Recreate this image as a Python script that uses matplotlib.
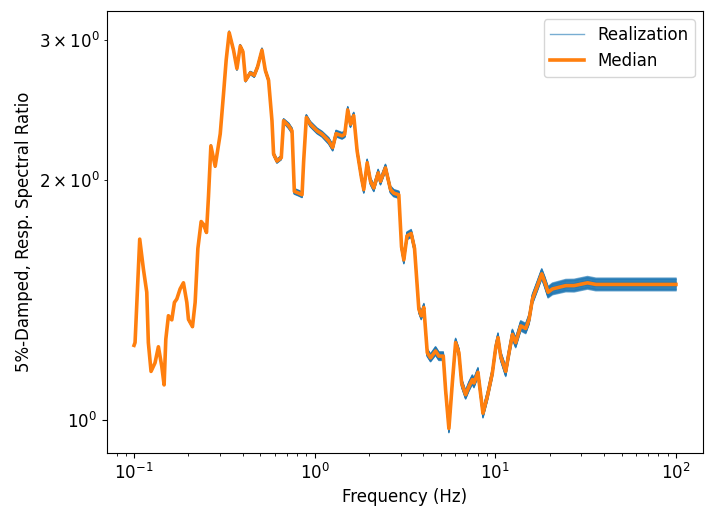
import numpy as np
import matplotlib
matplotlib.use("Agg")
import matplotlib.pyplot as plt

# frequencies (Hz)
freq = [
    0.1, 0.1013, 0.1048, 0.1075, 0.1126, 0.1176, 0.1200, 0.1242, 0.1307, 0.1364,
    0.1424, 0.1467, 0.1499, 0.1550, 0.1618, 0.1673, 0.1725, 0.1799, 0.1877, 0.1960,
    0.2001, 0.2106, 0.2179, 0.2256, 0.2353, 0.2423, 0.2518, 0.2583, 0.2663, 0.2813,
    0.3000, 0.3129, 0.3236, 0.3363, 0.3554, 0.3712, 0.3872, 0.4008, 0.4143, 0.4399,
    0.4629, 0.4828, 0.5107, 0.5328, 0.5556, 0.5803, 0.5922, 0.6184, 0.6533, 0.6729,
    0.7178, 0.7494, 0.7716, 0.8151, 0.8514, 0.8690, 0.8993, 0.9465, 1.031, 1.099,
    1.196, 1.258, 1.314, 1.419, 1.467, 1.524, 1.578, 1.645, 1.718, 1.816,
    1.870, 1.953, 2.037, 2.125, 2.247, 2.314, 2.466, 2.629, 2.742, 2.923,
    3.026, 3.116, 3.245, 3.424, 3.572, 3.773, 3.891, 4.022, 4.201, 4.382,
    4.670, 4.871, 5.152, 5.306, 5.535, 5.781, 6.029, 6.289, 6.510, 6.851,
    7.146, 7.463, 7.617, 8.016, 8.545, 9.036, 9.634, 10.05, 10.35, 10.71,
    11.42, 11.91, 12.44, 12.97, 13.83, 14.74, 15.38, 16.06, 17.12, 18.08,
    18.79, 19.60, 20.73, 22.55, 24.57, 27.31, 29.76, 32.41, 36.05, 49.6,
    72.7, 100.0,
]

# median spectral ratio
median = [
    1.242, 1.252, 1.491, 1.688, 1.550, 1.448, 1.252, 1.152, 1.181, 1.237,
    1.169, 1.108, 1.264, 1.353, 1.337, 1.406, 1.420, 1.462, 1.488, 1.406,
    1.339, 1.311, 1.406, 1.643, 1.776, 1.762, 1.721, 1.910, 2.210, 2.084,
    2.288, 2.569, 2.831, 3.065, 2.914, 2.763, 2.948, 2.900, 2.671, 2.728,
    2.710, 2.776, 2.914, 2.750, 2.671, 2.376, 2.159, 2.115, 2.136, 2.376,
    2.342, 2.308, 1.938, 1.928, 1.919, 2.115, 2.399, 2.353, 2.308, 2.286,
    2.242, 2.199, 2.290, 2.275, 2.286, 2.452, 2.353, 2.412, 2.178, 2.015,
    1.948, 2.105, 1.995, 1.957, 2.044, 1.995, 2.074, 1.948, 1.928, 1.919,
    1.651, 1.590, 1.704, 1.716, 1.643, 1.379, 1.353, 1.386, 1.216, 1.198,
    1.222, 1.204, 1.204, 1.092, 0.977, 1.114, 1.252, 1.216, 1.114, 1.077,
    1.103, 1.125, 1.114, 1.149, 1.021, 1.072, 1.147, 1.233, 1.270, 1.204,
    1.152, 1.216, 1.282, 1.252, 1.314, 1.304, 1.339, 1.420, 1.476, 1.527,
    1.491, 1.448, 1.462, 1.469, 1.476, 1.476, 1.482, 1.488, 1.481, 1.481,
    1.481, 1.481,
]

# half-width of the realization band (log10 units)
spread = ([0.0] * 10 + [0.0005] * 10 + [0.0010] * 10 + [0.0020] * 10
          + [0.0026] * 10 + [0.0036] * 10 + [0.0042] * 10 + [0.0046] * 10
          + [0.0050] * 10 + [0.0055] * 10 + [0.0060] * 10 + [0.0065] * 10
          + [0.0070, 0.0072, 0.0074, 0.0076, 0.0078, 0.0080, 0.0080, 0.0080, 0.0080, 0.0080]
          + [0.0080, 0.0080])

# relative position of each realization inside the band
offsets = [-1.0, -0.9, -0.8, -0.7, -0.55, -0.4, -0.3, -0.2, -0.1, 0.0,
           0.1, 0.2, 0.3, 0.4, 0.55, 0.7, 0.8, 0.9, 1.0]

plt.rcParams["font.size"] = 12

f = np.array(freq)
med = np.array(median)
sp = np.array(spread)

fig, ax = plt.subplots(figsize=(7.13, 5.23), dpi=100)
fig.subplots_adjust(left=0.150, right=0.986, top=0.979, bottom=0.134)

for i, k in enumerate(offsets):
    ax.plot(f, med * 10 ** (k * sp), color="C0", lw=1.0, alpha=0.6,
            label="Realization" if i == 0 else None)
# a second pass without labels darkens the band like the reference
for k in offsets[2:-2]:
    ax.plot(f, med * 10 ** (k * sp), color="C0", lw=1.0, alpha=0.6)
ax.plot(f, med, color="C1", lw=2.6, label="Median")

ax.set_xscale("log")
ax.set_yscale("log")
ax.set_xlabel("Frequency (Hz)")
ax.set_ylabel("5%-Damped, Resp. Spectral Ratio")
ax.legend(loc="upper right")

fig.savefig("out.png", dpi=100)
